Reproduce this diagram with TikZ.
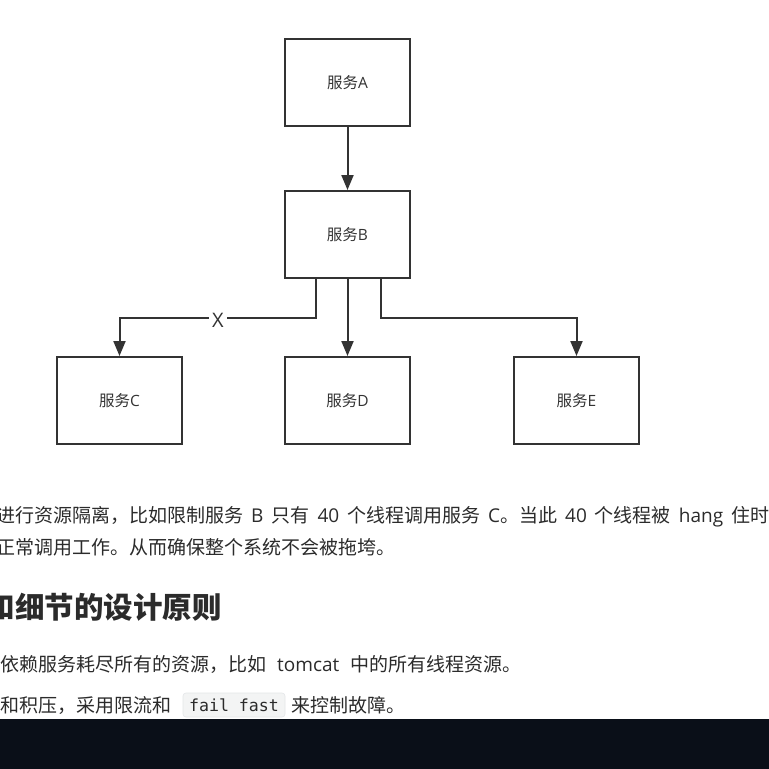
\documentclass[tikz,border=0pt]{standalone}
\usepackage{fontspec}
\setmainfont{Noto Sans CJK SC}
\newfontfamily\lat{Open Sans}
\newfontfamily\codefont{DejaVu Sans Mono}
\newcommand\widespc{\spaceskip 8pt\relax}
\newcommand\widerspc{\spaceskip 11pt\relax}
\usetikzlibrary{arrows.meta}
\definecolor{ink}{HTML}{333333}
\definecolor{txt}{HTML}{2B2B2B}
\definecolor{codebg}{HTML}{F3F4F4}
\definecolor{codeline}{HTML}{E4E6E8}
\definecolor{darkbar}{HTML}{0A0F18}
\begin{document}
\begin{tikzpicture}[x=1pt,y=-1pt,
  svc/.style={draw=ink,line width=2pt,minimum width=125pt,minimum height=87pt,inner sep=0pt,font=\fontsize{15.5}{18}\selectfont,text=ink},
  conn/.style={draw=ink,line width=2pt,-{Triangle[length=15pt,width=12pt]}},
  para/.style={anchor=base west,inner sep=0pt,text=txt,font=\fontsize{19}{22}\selectfont\widespc},
]
\useasboundingbox (0,0) rectangle (769,769);
\clip (0,0) rectangle (769,769);
\fill[white] (0,0) rectangle (769,769);
\node[svc] (A) at (347.5,82.5) {服务{\lat A}};
\node[svc] (B) at (347.5,234.5) {服务{\lat B}};
\node[svc] (C) at (119.5,400.5) {服务{\lat C}};
\node[svc] (D) at (347.5,400.5) {服务{\lat D}};
\node[svc] (E) at (576.5,400.5) {服务{\lat E}};
\coordinate (bc1) at (316,318);
\coordinate (be1) at (381,318);
\draw[conn] (A) -- (B);
\draw[conn] (B) -- (D);
\draw[conn] (B.south -| bc1) -- (bc1) -- (bc1 -| C.north) -- (C.north);
\draw[conn] (B.south -| be1) -- (be1) -- (be1 -| E.north) -- (E.north);
\node[fill=white,inner xsep=3pt,inner ysep=1pt,text=ink,font=\lat\fontsize{20}{22}\selectfont] (X) at (218,320) {X};
\node[para] (l1) at (-4,522) {进行资源隔离，比如限制服务 {\lat B} 只有 {\lat 40} 个线程调用服务 {\lat C}。当此 {\lat 40} 个线程被 {\lat hang} 住时，};
\node[para] (l2) at (-4,554) {正常调用工作。从而确保整个系统不会被拖垮。};
\node[para,font=\fontsize{29.5}{34}\selectfont\bfseries] (h) at (-14.5,618) {和细节的设计原则};
\node[para,font=\fontsize{19}{22}\selectfont\widerspc] (l4) at (0,671) {依赖服务耗尽所有的资源，比如 {\lat tomcat} 中的所有线程资源。};
\node[para] (l5a) at (0,712) {和积压，采用限流和};
\node[draw=codeline,fill=codebg,rounded corners=3pt,line width=0.6pt,minimum width=102pt,minimum height=24pt,inner sep=0pt,font=\codefont\fontsize{16.6}{18}\selectfont,text=txt] (code) at (234,705) {fail fast};
\node[para] (l5b) at (291,712) {来控制故障。};
\fill[darkbar] (0,719) rectangle (769,769);
\end{tikzpicture}
\end{document}
